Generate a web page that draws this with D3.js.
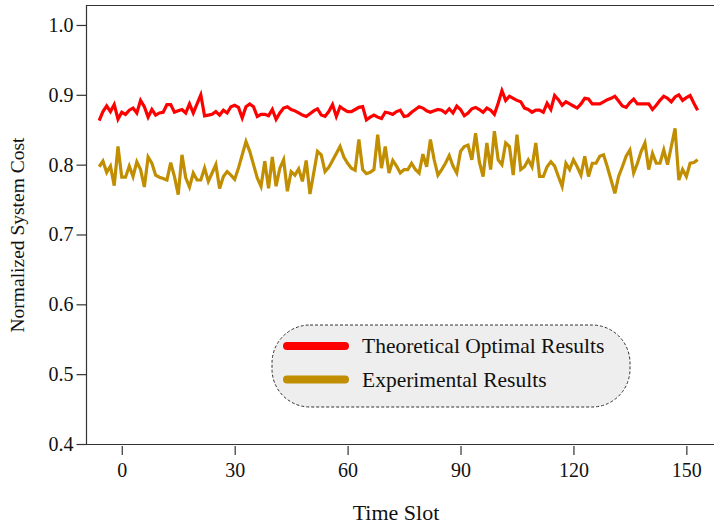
<!DOCTYPE html>
<html>
<head>
<meta charset="utf-8">
<script src="https://d3js.org/d3.v7.min.js"></script>
<style>
  body { margin: 0; background: #fff; }
  svg { display: block; font-family: "Liberation Serif", "DejaVu Serif", serif; }
  .lbl { font-size: 20px; fill: #111; }
</style>
</head>
<body>
<svg width="714" height="527"></svg>
<script>
// time slots -6 .. 153
var slotStart = -6;
var optimal = [
  0.863,0.876,0.884,0.876,0.886,0.865,0.875,0.872,0.878,0.881,
  0.874,0.892,0.883,0.868,0.879,0.871,0.874,0.875,0.886,0.886,
  0.875,0.877,0.879,0.874,0.887,0.874,0.887,0.900,0.870,0.871,
  0.872,0.876,0.871,0.878,0.874,0.883,0.885,0.882,0.867,0.883,
  0.887,0.883,0.869,0.872,0.872,0.870,0.879,0.865,0.874,0.881,
  0.883,0.879,0.877,0.874,0.871,0.869,0.873,0.877,0.880,0.871,
  0.869,0.876,0.886,0.869,0.883,0.879,0.876,0.876,0.879,0.882,
  0.883,0.864,0.868,0.871,0.868,0.866,0.875,0.874,0.872,0.876,
  0.878,0.869,0.870,0.875,0.879,0.883,0.881,0.877,0.875,0.877,
  0.879,0.878,0.874,0.880,0.874,0.884,0.879,0.870,0.874,0.880,
  0.882,0.879,0.875,0.881,0.878,0.872,0.888,0.906,0.892,0.898,
  0.895,0.892,0.890,0.881,0.879,0.875,0.878,0.878,0.875,0.888,
  0.879,0.899,0.893,0.885,0.890,0.887,0.884,0.881,0.887,0.895,
  0.894,0.887,0.887,0.887,0.890,0.893,0.895,0.898,0.891,0.884,
  0.882,0.889,0.894,0.887,0.887,0.887,0.887,0.879,0.885,0.892,
  0.898,0.895,0.890,0.897,0.900,0.892,0.896,0.899,0.888,0.878
];
var experimental = [
  0.797,0.805,0.789,0.798,0.770,0.826,0.782,0.782,0.798,0.783,
  0.804,0.793,0.768,0.811,0.802,0.785,0.782,0.780,0.778,0.803,
  0.783,0.757,0.814,0.781,0.768,0.788,0.778,0.778,0.795,0.776,
  0.788,0.800,0.766,0.783,0.790,0.785,0.779,0.795,0.814,0.833,
  0.819,0.800,0.781,0.769,0.805,0.766,0.811,0.769,0.795,0.807,
  0.762,0.790,0.785,0.794,0.776,0.806,0.758,0.788,0.819,0.814,
  0.790,0.796,0.806,0.816,0.826,0.811,0.802,0.795,0.792,0.836,
  0.793,0.787,0.789,0.793,0.843,0.795,0.826,0.788,0.806,0.798,
  0.788,0.793,0.793,0.802,0.793,0.788,0.815,0.797,0.836,0.807,
  0.785,0.793,0.802,0.813,0.798,0.788,0.819,0.826,0.828,0.807,
  0.845,0.804,0.783,0.831,0.793,0.848,0.807,0.800,0.831,0.826,
  0.785,0.843,0.793,0.797,0.807,0.797,0.831,0.783,0.783,0.797,
  0.804,0.798,0.783,0.769,0.802,0.793,0.807,0.797,0.785,0.812,
  0.783,0.802,0.802,0.812,0.814,0.797,0.778,0.759,0.783,0.797,
  0.812,0.821,0.788,0.802,0.819,0.831,0.793,0.816,0.802,0.802,
  0.821,0.800,0.826,0.852,0.778,0.793,0.783,0.802,0.803,0.807
];
var seriesNames = ["Theoretical Optimal Results", "Experimental Results"];
var seriesColors = ["#ff0000", "#c08e00"];
var xTicks = [0, 30, 60, 90, 120, 150];
var yTicks = [0.4, 0.5, 0.6, 0.7, 0.8, 0.9, 1.0];

var svg = d3.select("svg");
var pLeft = 86, pRight = 724, pTop = 5, pBottom = 444;

var x = d3.scaleLinear().domain([-9.5, 160]).range([pLeft, pRight]);
var y = d3.scaleLinear().domain([0.4, 1.0286]).range([pBottom, pTop]);

// frame (top, left, bottom)
svg.append("path")
  .attr("d", "M714," + (pTop + 0.5) + "H" + (pLeft + 0.5) + "V" + (pBottom + 0.5) + "H714")
  .attr("fill", "none").attr("stroke", "#333").attr("stroke-width", 1.2);

// y axis
var yAxis = d3.axisLeft(y).tickValues(yTicks).tickSize(10).tickPadding(3)
  .tickFormat(d3.format(".1f"));
var gy = svg.append("g").attr("transform", "translate(" + (pLeft + 0.5) + ",0)").call(yAxis)
  .attr("font-family", null).attr("font-size", null);
gy.select(".domain").remove();
gy.selectAll(".tick line").attr("stroke", "#333").attr("stroke-width", 1.2);
gy.selectAll(".tick text").attr("class", "lbl");

// x axis (ticks slightly detached below the frame)
var xAxis = d3.axisBottom(x).tickValues(xTicks).tickSize(9).tickPadding(8);
var gx = svg.append("g").attr("transform", "translate(0," + (pBottom + 2) + ")").call(xAxis)
  .attr("font-family", null).attr("font-size", null);
gx.select(".domain").remove();
gx.selectAll(".tick line").attr("stroke", "#333").attr("stroke-width", 1.2);
gx.selectAll(".tick text").attr("class", "lbl");

// axis titles
svg.append("text").attr("class", "lbl").attr("x", 396).attr("y", 520)
  .attr("text-anchor", "middle").style("font-size", "22px").text("Time Slot");
svg.append("text").attr("class", "lbl")
  .attr("transform", "translate(24,235) rotate(-90)")
  .attr("text-anchor", "middle").style("font-size", "19.5px").text("Normalized System Cost");

// lines
var line = d3.line()
  .x(function(d, i) { return x(slotStart + i); })
  .y(function(d) { return y(d); });

[experimental, optimal].forEach(function(s, k) {
  svg.append("path").datum(s)
    .attr("d", line)
    .attr("fill", "none")
    .attr("stroke", k == 0 ? seriesColors[1] : seriesColors[0])
    .attr("stroke-width", 3.2)
    .attr("stroke-linejoin", "miter");
});

// legend
var lg = svg.append("g");
lg.append("rect").attr("x", 272).attr("y", 325).attr("width", 358).attr("height", 82)
  .attr("rx", 38).attr("ry", 38)
  .attr("fill", "#eeeeee").attr("stroke", "#333").attr("stroke-width", 1)
  .attr("stroke-dasharray", "3,2");
seriesNames.forEach(function(n, i) {
  var yy = 346 + i * 33.5;
  lg.append("line").attr("x1", 287).attr("x2", 345).attr("y1", yy).attr("y2", yy)
    .attr("stroke", seriesColors[i]).attr("stroke-width", 8).attr("stroke-linecap", "round");
  lg.append("text").attr("class", "lbl").attr("x", 362).attr("y", yy + 7)
    .style("font-size", "21.5px").text(n);
});
</script>
</body>
</html>
